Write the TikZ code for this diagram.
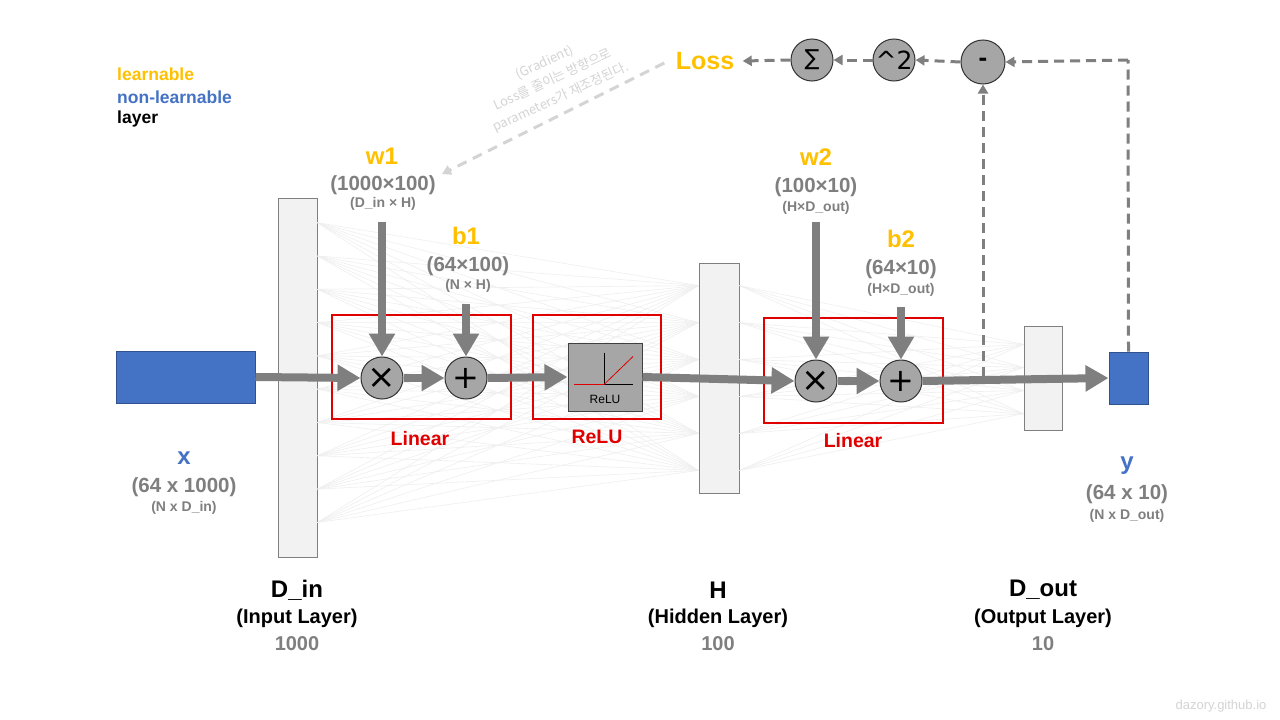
\documentclass[tikz,border=0pt]{standalone}
\usepackage{fontspec}
\setmainfont{Liberation Sans}
\newfontfamily\krfont{Noto Sans CJK KR}
\newfontfamily\dvfont{DejaVu Sans}
\usetikzlibrary{arrows.meta,calc}
\definecolor{gold}{HTML}{FFC000}
\definecolor{nlblue}{HTML}{4472C4}
\definecolor{nlborder}{HTML}{2F528F}
\definecolor{dgray}{HTML}{7F7F7F}
\definecolor{lgray}{HTML}{F2F2F2}
\definecolor{opfill}{HTML}{A6A6A6}
\definecolor{redline}{HTML}{E00000}
\definecolor{faint}{HTML}{D4D4D4}
\definecolor{netc}{HTML}{EFEFEF}
\tikzset{
  layerbox/.style={draw=dgray, fill=lgray, line width=1pt, inner sep=0pt},
  databox/.style={draw=nlborder, fill=nlblue, line width=1pt, inner sep=0pt},
  opc/.style={circle, draw=black!80, fill=opfill, line width=1pt, minimum size=42pt, inner sep=0pt},
  redbox/.style={draw=redline, line width=2.6pt, inner sep=0pt},
  flow/.style={draw=dgray, line width=8pt, -{Triangle[length=23pt,width=25pt]}},
  dashflow/.style={draw=dgray, line width=3pt, dash pattern=on 10pt off 6pt, -{Triangle[length=9pt,width=10pt]}},
  dashline/.style={draw=dgray, line width=3pt, dash pattern=on 10pt off 6pt},
  graddash/.style={draw=faint, line width=3pt, dash pattern=on 10pt off 7pt, -{Triangle[length=9pt,width=10pt]}},
  netline/.style={draw=netc, line width=0.6pt},
  goldlbl/.style={text=gold, font=\fontsize{24}{27}\selectfont\bfseries},
  dimlbl/.style={text=dgray, font=\fontsize{20.5}{23}\selectfont\bfseries},
  sublbl/.style={text=dgray, font=\fontsize{14}{16}\selectfont\bfseries},
  redlbl/.style={text=redline, font=\fontsize{19.5}{22}\selectfont\bfseries},
  laytitle/.style={text=black, font=\fontsize{24}{27}\selectfont\bfseries},
  laysub/.style={text=black, font=\fontsize{20}{22}\selectfont\bfseries},
  laynum/.style={text=dgray, font=\fontsize{20}{22}\selectfont\bfseries},
  legend/.style={anchor=west, font=\fontsize{17.5}{20}\selectfont\bfseries, inner sep=0pt},
}
\begin{document}
\begin{tikzpicture}[x=1pt,y=-1pt]
\useasboundingbox (0,0) rectangle (1280,720);
\fill[white] (0,0) rectangle (1280,720);

% layers
\node (din) [layerbox, minimum width=39pt, minimum height=359pt] at (297.5,377.5) {};
\node (hid) [layerbox, minimum width=40pt, minimum height=230pt] at (719,378) {};
\node (dout) [layerbox, minimum width=38pt, minimum height=104pt] at (1043,378) {};

% faint network connections
\foreach \i in {0,...,9}{
  \foreach \j in {0,...,5}{
    \draw[netline] ($(din.north east)!{0.07+\i*0.0925}!(din.south east)$) -- ($(hid.north west)!{0.1+\j*0.16}!(hid.south west)$);
  }
}
\foreach \i in {0,...,5}{
  \foreach \j in {0,...,3}{
    \draw[netline] ($(hid.north east)!{0.1+\i*0.16}!(hid.south east)$) -- ($(dout.north west)!{0.18+\j*0.22}!(dout.south west)$);
  }
}

% data boxes
\node (xin) [databox, minimum width=139pt, minimum height=52pt] at (185.5,377) {};
\node (yout) [databox, minimum width=39pt, minimum height=52pt] at (1128.5,378) {};

% legend
\node[legend, text=gold] (lg1) at (117,74) {learnable};
\node[legend, text=nlblue] (lg2) at (117,97) {non-learnable};
\node[legend, text=black] (lg3) at (117,119) {layer};

% red boxes
\node (lin1) [redbox, minimum width=179pt, minimum height=104pt] at (421.5,367) {};
\node (relubox) [redbox, minimum width=128pt, minimum height=104pt] at (597,367) {};
\node (lin2) [redbox, minimum width=179pt, minimum height=105pt] at (853.5,370.5) {};
\node[redlbl] (lin1l) at (420,439) {Linear};
\node[redlbl] (relul) at (597,437) {ReLU};
\node[redlbl] (lin2l) at (853,441) {Linear};

% operators
\node (mul1) [opc] at (382,378) {\dvfont\fontsize{34}{34}\selectfont ×};
\node (add1) [opc] at (466,378) {\dvfont\fontsize{32}{32}\selectfont +};
\node (relu) [draw=black!75, fill=opfill, line width=1pt, minimum width=74pt, minimum height=68pt, inner sep=0pt] at (605,377) {};
\draw[black, line width=0.8pt] ($(relu.south)+(-1,-59)$) coordinate (ax1) -- ($(relu.south)+(-1,-27)$) coordinate (ax0);
\draw[black, line width=0.8pt] ($(ax0)+(-30,0)$) -- ($(ax0)+(29,0)$);
\draw[redline, line width=0.8pt] ($(ax0)+(-30,0)$) -- (ax0) -- ($(ax0)+(29,-28)$);
\node[font=\fontsize{12}{13}\selectfont, text=black] (relut) at ($(relu.south)+(0,-12)$) {ReLU};
\node (mul2) [opc] at (816,381) {\dvfont\fontsize{34}{34}\selectfont ×};
\node (add2) [opc] at (901,381) {\dvfont\fontsize{32}{32}\selectfont +};

% main flow
\draw[flow] (xin.east) -- (mul1.west);
\draw[flow] (mul1.east) -- (add1.west);
\draw[flow] (add1.east) -- (relu.west);
\draw[flow] (relu.east) -- (mul2.west);
\draw[flow] (mul2.east) -- (add2.west);
\draw[flow] (add2.east) -- (yout.west);

% parameter labels and arrows
\node[goldlbl] (w1) at (382,156) {w1};
\node[dimlbl] (w1d) at (383,185) {(1000×100)};
\node[sublbl] (w1s) at (383,204) {(D\_in × H)};
\coordinate (w1a) at (382,222);
\draw[flow] (w1a) -- (mul1.north);

\node[goldlbl] (b1) at (466,236) {b1};
\node[dimlbl] (b1d) at (468,266) {(64×100)};
\node[sublbl] (b1s) at (468,286) {(N × H)};
\coordinate (b1a) at (466,304);
\draw[flow] (b1a) -- (add1.north);

\node[goldlbl] (w2) at (816,157) {w2};
\node[dimlbl] (w2d) at (816,187) {(100×10)};
\node[sublbl] (w2s) at (816,208) {(H×D\_out)};
\coordinate (w2a) at (816,222);
\draw[flow] (w2a) -- (mul2.north);

\node[goldlbl] (b2) at (901,239) {b2};
\node[dimlbl] (b2d) at (901,269) {(64×10)};
\node[sublbl] (b2s) at (901,290) {(H×D\_out)};
\coordinate (b2a) at (901,307);
\draw[flow] (b2a) -- (add2.north);

% x and y labels
\node[goldlbl, text=nlblue] (xl) at (184,458) {x};
\node[dimlbl] (xd) at (184,487) {(64 x 1000)};
\node[sublbl] (xs) at (184,508) {(N x D\_in)};
\node[goldlbl, text=nlblue] (yl) at (1127,466) {y};
\node[dimlbl] (yd) at (1127,494) {(64 x 10)};
\node[sublbl] (ys) at (1127,516) {(N x D\_out)};

% layer labels
\node[laytitle] (dinl) at (297,590) {D\_in};
\node[laysub] (dinl2) at (297,618) {(Input Layer)};
\node[laynum] (dinl3) at (297,644) {1000};
\node[laytitle] (hl) at (718,590) {H};
\node[laysub] (hl2) at (718,618) {(Hidden Layer)};
\node[laynum] (hl3) at (718,644) {100};
\node[laytitle] (doutl) at (1043,590) {D\_out};
\node[laysub] (doutl2) at (1043,618) {(Output Layer)};
\node[laynum] (doutl3) at (1043,644) {10};

% loss computation
\node (minus) [opc, minimum size=44pt] at (983,62) {\fontsize{26}{26}\selectfont\bfseries -};
\node (sq) [opc] at (894,60) {\dvfont\fontsize{25}{25}\selectfont \^{}2};
\node (sum) [opc] at (812,60) {\dvfont\fontsize{22}{22}\selectfont ∑};
\node[goldlbl, font=\fontsize{25}{28}\selectfont\bfseries] (loss) at (705,61) {Loss};
\coordinate (ycorner) at (1128,60);
\coordinate (tap) at (983,377);
\draw[dashline] (yout.north) -- (ycorner);
\draw[dashflow] (ycorner) -- (minus.east);
\draw[dashflow] (tap) -- (minus.south);
\draw[dashflow] (minus.west) -- (sq.east);
\draw[dashflow] (sq.west) -- (sum.east);
\draw[dashflow] (sum.west) -- ([xshift=5pt]loss.east);
\coordinate (gradend) at (442,174);
\draw[graddash] ([xshift=-8pt,yshift=-2pt]loss.west) -- (gradend);
\node[rotate=25, text=faint, align=center, font=\krfont\fontsize{13}{19}\selectfont] (gradtxt) at (553,80) {(Gradient)\\Loss를 줄이는 방향으로\\parameters가 재조정된다.};

% watermark
\node[text=faint, font=\fontsize{13}{15}\selectfont] (wm) at (1221,706) {dazory.github.io};
\end{tikzpicture}
\end{document}
